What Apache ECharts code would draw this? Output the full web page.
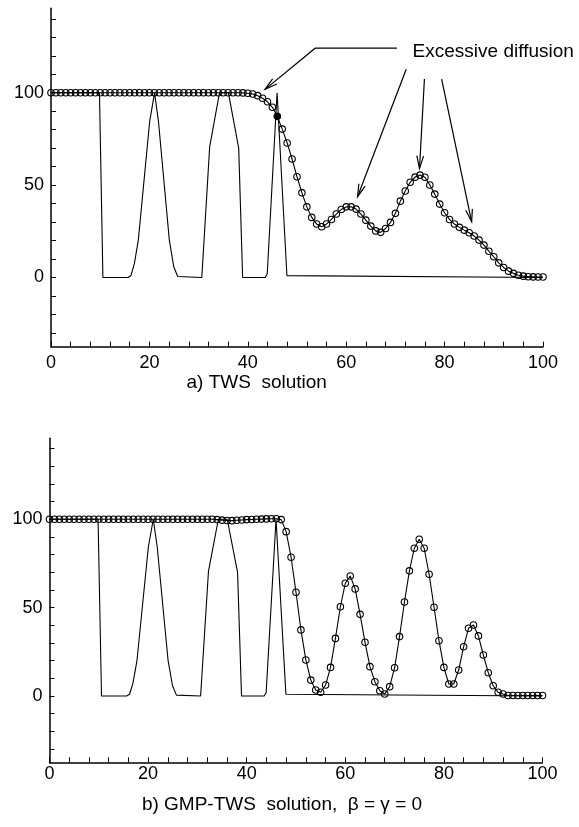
<!DOCTYPE html>
<html><head><meta charset="utf-8">
<script src="https://cdn.jsdelivr.net/npm/echarts@6/dist/echarts.min.js"></script>
<style>html,body{margin:0;padding:0;background:#fff}#c{width:579px;height:827px}</style>
</head><body><div id="c"></div>
<script>
// ---- data ----
const xTickLabels = [0, 20, 40, 60, 80, 100];
const yTickLabels = [0, 50, 100];
// exact (initial-profile) solution: breakpoints
const exactX = [0, 9.85, 10.55, 15.65, 16.25, 16.95, 17.75, 20.05, 21.05, 21.85, 24.05, 24.95, 25.75, 26.15,
  30.65, 32.25, 34.25, 36.05, 38.15, 38.95, 43.55, 43.95, 45.95, 47.95, 48.35, 100];
const exactY = [100, 100, 0, 0, 1, 7.6, 20.2, 84.3, 100, 84.3, 20.2, 5.8, 0.5, 0,
  0, 70.7, 100, 100, 70, 0, 0, 2, 100, 1, 0, 0];
// numerical solutions at x = 0..100
const twsY = [
  100,100,100,100,100,100,100,100,100,100,
  100,100,100,100,100,100,100,100,100,100,
  100,100,100,100,100,100,100,100,100,100,
  100,100,100,100,100,100,100,100,100,99.9,
  99.7,99.3,98.4,97.0,95.1,92.1,87.2,80.3,72.8,64.1,
  54.5,45.8,38.2,32.5,28.9,27.4,28.9,31.4,34.3,36.8,
  38.2,38.2,37.0,34.3,31.0,27.8,25.2,24.4,26.5,29.8,
  34.7,41.3,46.8,51.5,54.3,55.4,54.2,50.0,45.1,39.7,
  35.0,31.4,28.9,27.1,25.6,24.2,22.4,20.2,17.5,14.2,
  11.2,7.9,5.4,3.4,2.2,1.2,0.7,0.4,0.3,0.2,0.2];
const gmpY = [
  100,100,100,100,100,100,100,100,100,100,
  100,100,100,100,100,100,100,100,100,100,
  100,100,100,100,100,100,100,100,100,100,
  100,100,100,100,99.8,99.5,99.3,99.2,99.4,99.6,
  99.8,99.9,100,100.1,100.2,100.3,100.3,99.8,93.0,78.5,
  58.7,37.4,20.4,9.0,3.4,2.1,6.2,16.2,32.6,50.5,
  63.8,67.9,60.6,46.2,30.4,16.6,8.1,3.0,1.1,5.3,
  16.0,33.6,53.2,70.8,83.6,88.7,83.6,68.9,50.2,31.3,
  16.2,6.8,6.8,14.7,27.9,38.3,40.2,34.0,23.2,13.2,
  5.8,2.1,1.1,0.3,0.3,0.3,0.3,0.3,0.3,0.3,0.3];
const filledIndexTop = 46;
const titleA = 'a) TWS  solution';
const titleB = 'b) GMP-TWS  solution,  \u03b2 = \u03b3 = 0';
const noteText = 'Excessive diffusion';
// annotation geometry in data units of panel a
const leaderPts = [[70.3, 124.1], [53.7, 124.1], [43.5, 101.8]];
const arrowSegs = [[[72.2, 112.7], [62.3, 43.7]], [[75.9, 107.4], [74.9, 59.0]], [[79.4, 107.4], [85.5, 30.1]]];
const notePos = [73.5, 122.3];

// ---- build ----
const FONT = 'Liberation Sans';
const xTicks = []; for (let v = 0; v <= 100; v += 4) xTicks.push(v);
const yTicks = []; for (let v = -30; v <= 140; v += 10) yTicks.push(v);
const xs = twsY.map((_, i) => i);
const exact = exactX.map((x, i) => [x, exactY[i]]);

function xAxis(gi, margin) {
  return { type: 'value', gridIndex: gi, min: 0, max: 100, interval: 4,
    axisLine: { show: true, onZero: false, lineStyle: { color: '#000', width: 1.5 } },
    axisTick: { show: true, inside: true, length: 5, customValues: xTicks, lineStyle: { color: '#000', width: 1 } },
    axisLabel: { customValues: xTickLabels, color: '#000', fontSize: 18, fontFamily: FONT, margin: margin },
    splitLine: { show: false } };
}
function yAxis(gi, max) {
  return { type: 'value', gridIndex: gi, min: -37.5, max: max,
    axisLine: { show: true, onZero: false, lineStyle: { color: '#000', width: 1.5 } },
    axisTick: { show: true, inside: true, length: 5, customValues: yTicks, lineStyle: { color: '#000', width: 1 } },
    axisLabel: { customValues: yTickLabels, color: '#000', fontSize: 18, fontFamily: FONT, margin: 7 },
    splitLine: { show: false } };
}
function circles(gi, ys, filled) {
  return { type: 'line', xAxisIndex: gi, yAxisIndex: gi, z: 3,
    data: ys.map((y, i) => (i === filled ? { value: [xs[i], y], itemStyle: { color: '#000' } } : [xs[i], y])),
    symbol: 'circle', symbolSize: 6.5, showSymbol: true, showAllSymbol: true,
    itemStyle: { color: 'rgba(255,255,255,0)', borderColor: '#000', borderWidth: 1.1 },
    lineStyle: { color: '#000', width: 1.1 }, emphasis: { disabled: true } };
}
function exactSeries(gi) {
  return { type: 'line', xAxisIndex: gi, yAxisIndex: gi, z: 2, data: exact, symbol: 'none',
    lineStyle: { color: '#000', width: 1.1 }, emphasis: { disabled: true } };
}

const chart = echarts.init(document.getElementById('c'), null, { renderer: 'canvas' });
chart.setOption({
  animation: false,
  backgroundColor: '#fff',
  grid: [
    { left: 51, top: 8.3, width: 492, height: 338.4 },
    { left: 49.5, top: 438.3, width: 493, height: 324 }
  ],
  xAxis: [xAxis(0, 7), xAxis(1, 3)],
  yAxis: [yAxis(0, 145.7), yAxis(1, 145.8)],
  series: [exactSeries(0), circles(0, twsY, filledIndexTop), exactSeries(1), circles(1, gmpY, -1)]
});

// annotations placed through the chart's own coordinate conversion
const P = (p) => chart.convertToPixel({ gridIndex: 0 }, p);
const g = [];
const stroke = { stroke: '#000', lineWidth: 1.2, fill: null };
function arrowHead(s, t) {
  const dx = t[0] - s[0], dy = t[1] - s[1], L = Math.hypot(dx, dy);
  const ux = dx / L, uy = dy / L, len = 13, a = 15 * Math.PI / 180;
  const r = (ang) => [t[0] - len * (ux * Math.cos(ang) - uy * Math.sin(ang)), t[1] - len * (ux * Math.sin(ang) + uy * Math.cos(ang))];
  return { type: 'polyline', shape: { points: [r(a), t, r(-a)] }, style: stroke, z: 10 };
}
const lp = leaderPts.map(P);
g.push({ type: 'polyline', shape: { points: lp }, style: stroke, z: 10 });
g.push(arrowHead(lp[1], lp[2]));
arrowSegs.forEach(([s, t]) => {
  const sp = P(s), tp = P(t);
  g.push({ type: 'line', shape: { x1: sp[0], y1: sp[1], x2: tp[0], y2: tp[1] }, style: stroke, z: 10 });
  g.push(arrowHead(sp, tp));
});
const np = P(notePos);
g.push({ type: 'text', x: np[0], y: np[1], z: 10, style: { text: noteText, font: '19px "' + FONT + '"', fill: '#000', align: 'left', verticalAlign: 'middle' } });
g.push({ type: 'text', x: 256.7, y: 383, z: 10, style: { text: titleA, font: '19px "' + FONT + '"', fill: '#000', align: 'center', verticalAlign: 'middle' } });
g.push({ type: 'text', x: 282, y: 805, z: 10, style: { text: titleB, font: '19px "' + FONT + '"', fill: '#000', align: 'center', verticalAlign: 'middle' } });
chart.setOption({ graphic: g });
</script>
</body></html>
